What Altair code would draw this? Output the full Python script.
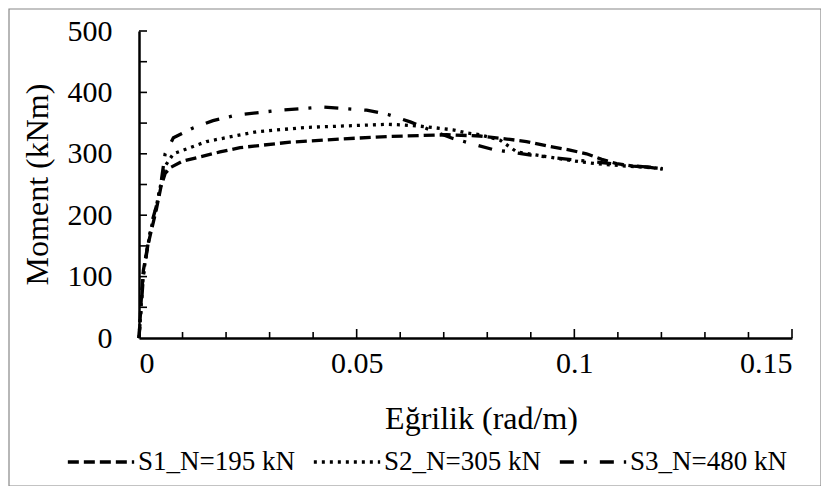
import altair as alt
import pandas as pd

# ---- data ----
s1_x = [0, 0.0005, 0.001, 0.002, 0.003, 0.004, 0.005, 0.006, 0.0073, 0.010, 0.0186, 0.0232, 0.0347,
        0.046, 0.0569, 0.0707, 0.0783, 0.0845, 0.089, 0.0936, 0.099, 0.1028, 0.1063, 0.1097, 0.1135,
        0.1174, 0.1203]
s1_m = [0, 60, 110, 150, 180, 210, 245, 268, 278, 288, 303, 310, 319,
        324, 328, 331, 329, 324, 320, 313, 306, 300, 291, 284, 280,
        278, 275]

s2_x = [0, 0.0005, 0.001, 0.002, 0.003, 0.004, 0.005, 0.006, 0.0079, 0.0155, 0.027, 0.0385, 0.0569,
        0.0607, 0.0646, 0.0684, 0.0721, 0.0753, 0.0783, 0.083, 0.0868, 0.0905, 0.0975, 0.1013, 0.105,
        0.110, 0.1203]
s2_m = [0, 55, 105, 150, 185, 215, 250, 280, 300, 320, 336, 343, 348,
        347, 345, 342, 339, 334, 331, 322, 303, 299, 291, 287, 284,
        281, 276]

s3_x = [0, 0.001, 0.002, 0.003, 0.004, 0.005, 0.006, 0.0079, 0.0124, 0.017, 0.0224, 0.0324, 0.0423,
        0.0523, 0.0572, 0.0623, 0.0668, 0.0721, 0.0767, 0.0813, 0.090, 0.100, 0.110, 0.1203]
s3_m = [0, 100, 150, 190, 215, 250, 300, 326, 342, 354, 363, 371, 376,
        371, 364, 352, 339, 325, 316, 307, 298, 290, 283, 276]

series_names = ["S1_N=195 kN", "S2_N=305 kN", "S3_N=480 kN"]
x_tick_labels = [0, 0.05, 0.1, 0.15]
y_tick_labels = [0, 100, 200, 300, 400, 500]
x_minor_ticks = [0.01, 0.02, 0.03, 0.04, 0.06, 0.07, 0.08, 0.09, 0.11, 0.12, 0.13, 0.14]
x_major_ticks = [0.05, 0.10, 0.15]
y_minor_ticks = [50, 100, 150, 200, 250, 300, 350, 400, 450, 500]

rows = []
for name, xs, ms in zip(series_names, [s1_x, s2_x, s3_x], [s1_m, s2_m, s3_m]):
    for i, (xv, mv) in enumerate(zip(xs, ms)):
        rows.append({"series": name, "x": xv, "m": mv, "ord": i})
df = pd.DataFrame(rows)

FONT = "Liberation Serif"
W, H = 653, 307

xscale = alt.Scale(domain=[0, 0.15], nice=False, zero=False)
yscale = alt.Scale(domain=[0, 500], nice=False)

lines = alt.Chart(df).mark_line(strokeWidth=3.3, color="black").encode(
    x=alt.X("x:Q", scale=xscale,
            axis=alt.Axis(values=x_tick_labels, format="~g", title="Eğrilik (rad/m)",
                          titleX=342, titleY=90, titleBaseline="alphabetic", titleAlign="center")),
    y=alt.Y("m:Q", scale=yscale,
            axis=alt.Axis(values=y_tick_labels, title="Moment (kNm)",
                          titleX=-102, titleY=153, titleAngle=270, titleAlign="center",
                          titleBaseline="middle")),
    strokeDash=alt.StrokeDash(
        "series:N",
        scale=alt.Scale(domain=series_names, range=[[11, 5], [3, 5], [14, 10, 3, 13]]),
        legend=alt.Legend(orient="none", legendX=-73, legendY=396, direction="horizontal",
                          title=None, symbolType="stroke", symbolSize=4400,
                          symbolStrokeWidth=3.3, symbolStrokeColor="black",
                          labelFont=FONT, labelFontSize=27, labelColor="black",
                          labelLimit=0, columnPadding=12, labelOffset=2),
    ),
    order="ord:Q",
)

ytk = alt.Chart(pd.DataFrame({"v": y_minor_ticks})).mark_rule(color="black", strokeWidth=1.6).encode(
    y=alt.Y("v:Q", scale=yscale), x=alt.value(0), x2=alt.value(8)
)
xtk_minor = alt.Chart(pd.DataFrame({"v": x_minor_ticks})).mark_rule(color="black", strokeWidth=1.6).encode(
    x=alt.X("v:Q", scale=xscale), y=alt.value(H), y2=alt.value(H - 6)
)
xtk_major = alt.Chart(pd.DataFrame({"v": x_major_ticks})).mark_rule(color="black", strokeWidth=1.6).encode(
    x=alt.X("v:Q", scale=xscale), y=alt.value(H), y2=alt.value(H - 9)
)

border = alt.Chart(pd.DataFrame({"a": [0]})).mark_rect(
    fill=None, fillOpacity=0, stroke="#888888", strokeWidth=1.2
).encode(x=alt.value(-130), x2=alt.value(682), y=alt.value(-22), y2=alt.value(455))

chart = alt.layer(border, lines, ytk, xtk_minor, xtk_major).properties(
    width=W, height=H,
    autosize=alt.AutoSizeParams(type="none"),
    padding={"left": 131, "top": 23, "right": 29, "bottom": 148},
).configure_view(stroke=None).configure_axis(
    labelFont=FONT, labelFontSize=30, labelColor="black",
    titleFont=FONT, titleFontSize=32, titleColor="black", titleFontWeight="normal",
    domainColor="black", domainWidth=2.5, ticks=False, tickSize=0, grid=False,
).configure_axisY(labelPadding=27).configure_axisX(labelPadding=10).configure_legend(
    labelFont=FONT
)

chart.save("out.html", embed_options={"renderer": "svg", "actions": False})
